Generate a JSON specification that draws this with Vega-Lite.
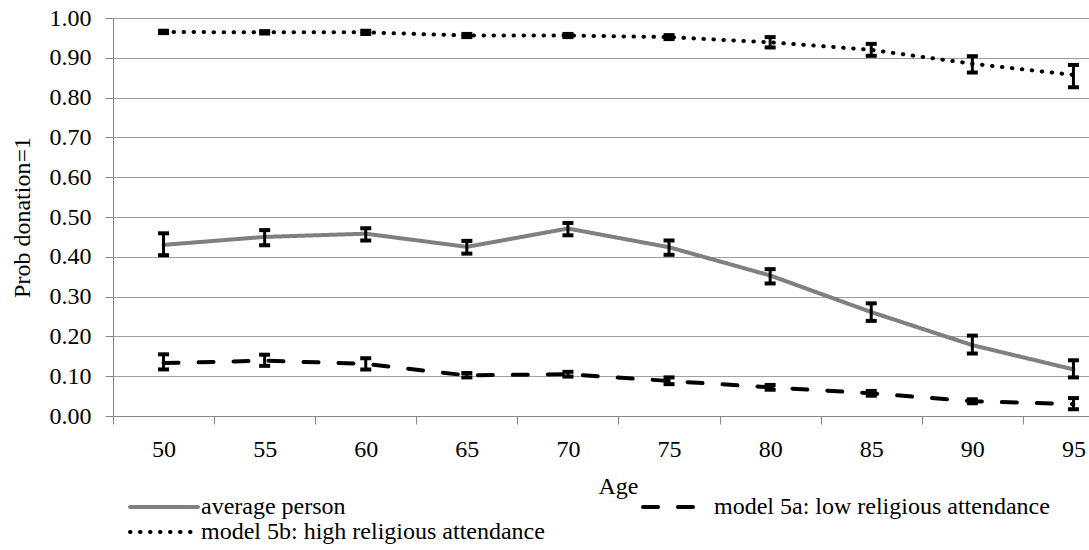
{
  "$schema": "https://vega.github.io/schema/vega-lite/v6.json",
  "width": 976,
  "height": 398,
  "autosize": {"type": "none"},
  "padding": {"left": 113, "top": 18, "right": 0, "bottom": 134},
  "config": {
    "font": "Liberation Serif",
    "view": {"stroke": null},
    "style": {
      "guide-label": {"font": "Liberation Serif", "fontSize": 24, "fill": "#000000"},
      "guide-title": {"font": "Liberation Serif", "fontSize": 24, "fontWeight": "normal", "fill": "#000000"}
    },
    "axis": {
      "labelFont": "Liberation Serif",
      "labelFontSize": 24,
      "labelColor": "#000000",
      "titleFont": "Liberation Serif",
      "titleFontSize": 24,
      "titleFontWeight": "normal",
      "titleColor": "#000000",
      "domainColor": "#868686",
      "tickColor": "#868686",
      "gridColor": "#a0a0a0",
      "gridWidth": 1
    },
    "legend": {
      "labelFont": "Liberation Serif",
      "labelFontSize": 24,
      "labelColor": "#000000",
      "labelLimit": 1000
    }
  },
  "data": {
    "values": [
      {"age": 50, "series": "average person", "p": 0.430, "lo": 0.404, "hi": 0.459},
      {"age": 55, "series": "average person", "p": 0.450, "lo": 0.429, "hi": 0.467},
      {"age": 60, "series": "average person", "p": 0.458, "lo": 0.441, "hi": 0.472},
      {"age": 65, "series": "average person", "p": 0.425, "lo": 0.408, "hi": 0.440},
      {"age": 70, "series": "average person", "p": 0.471, "lo": 0.454, "hi": 0.485},
      {"age": 75, "series": "average person", "p": 0.424, "lo": 0.405, "hi": 0.441},
      {"age": 80, "series": "average person", "p": 0.353, "lo": 0.333, "hi": 0.369},
      {"age": 85, "series": "average person", "p": 0.261, "lo": 0.239, "hi": 0.283},
      {"age": 90, "series": "average person", "p": 0.178, "lo": 0.157, "hi": 0.202},
      {"age": 95, "series": "average person", "p": 0.117, "lo": 0.097, "hi": 0.140},
      {"age": 50, "series": "model 5a: low religious attendance", "p": 0.133, "lo": 0.117, "hi": 0.155},
      {"age": 55, "series": "model 5a: low religious attendance", "p": 0.139, "lo": 0.126, "hi": 0.154},
      {"age": 60, "series": "model 5a: low religious attendance", "p": 0.131, "lo": 0.117, "hi": 0.145},
      {"age": 65, "series": "model 5a: low religious attendance", "p": 0.102, "lo": 0.097, "hi": 0.108},
      {"age": 70, "series": "model 5a: low religious attendance", "p": 0.105, "lo": 0.099, "hi": 0.111},
      {"age": 75, "series": "model 5a: low religious attendance", "p": 0.088, "lo": 0.080, "hi": 0.097},
      {"age": 80, "series": "model 5a: low religious attendance", "p": 0.072, "lo": 0.066, "hi": 0.078},
      {"age": 85, "series": "model 5a: low religious attendance", "p": 0.057, "lo": 0.051, "hi": 0.063},
      {"age": 90, "series": "model 5a: low religious attendance", "p": 0.037, "lo": 0.032, "hi": 0.042},
      {"age": 95, "series": "model 5a: low religious attendance", "p": 0.030, "lo": 0.017, "hi": 0.045},
      {"age": 50, "series": "model 5b: high religious attendance", "p": 0.965, "lo": 0.962, "hi": 0.968},
      {"age": 55, "series": "model 5b: high religious attendance", "p": 0.964, "lo": 0.961, "hi": 0.967},
      {"age": 60, "series": "model 5b: high religious attendance", "p": 0.964, "lo": 0.960, "hi": 0.968},
      {"age": 65, "series": "model 5b: high religious attendance", "p": 0.956, "lo": 0.952, "hi": 0.960},
      {"age": 70, "series": "model 5b: high religious attendance", "p": 0.956, "lo": 0.952, "hi": 0.960},
      {"age": 75, "series": "model 5b: high religious attendance", "p": 0.952, "lo": 0.947, "hi": 0.957},
      {"age": 80, "series": "model 5b: high religious attendance", "p": 0.939, "lo": 0.926, "hi": 0.952},
      {"age": 85, "series": "model 5b: high religious attendance", "p": 0.920, "lo": 0.905, "hi": 0.935},
      {"age": 90, "series": "model 5b: high religious attendance", "p": 0.885, "lo": 0.863, "hi": 0.904},
      {"age": 95, "series": "model 5b: high religious attendance", "p": 0.857, "lo": 0.826, "hi": 0.882}
    ]
  },
  "layer": [
    {
      "mark": {"type": "line", "clip": true, "strokeCap": "round"},
      "encoding": {
        "x": {
          "field": "age",
          "type": "quantitative",
          "scale": {"domain": [47.5, 95.77], "nice": false, "zero": false},
          "axis": {
            "values": [47.5, 50, 52.5, 55, 57.5, 60, 62.5, 65, 67.5, 70, 72.5, 75, 77.5, 80, 82.5, 85, 87.5, 90, 92.5, 95],
            "labelExpr": "datum.value % 5 === 0 ? datum.label : ''",
            "format": "d",
            "grid": false,
            "tickSize": 8,
            "labelPadding": 13,
            "labelFont": "Liberation Serif",
            "labelFontSize": 24,
            "labelFlush": false,
            "labelOverlap": false,
            "tickOpacity": {"condition": {"test": "datum.value % 5 === 0", "value": 0}, "value": 1},
            "title": "Age",
            "titleX": 505,
            "titleY": 77,
            "titleBaseline": "alphabetic",
            "titleAlign": "center"
          }
        },
        "y": {
          "field": "p",
          "type": "quantitative",
          "scale": {"domain": [0, 1], "nice": false},
          "axis": {
            "values": [0, 0.1, 0.2, 0.3, 0.4, 0.5, 0.6, 0.7, 0.8, 0.9, 1],
            "format": ".2f",
            "grid": true,
            "tickSize": 8,
            "labelPadding": 14,
            "labelFont": "Liberation Serif",
            "labelFontSize": 24,
            "labelOverlap": false,
            "labelFlush": false,
            "title": "Prob donation=1",
            "titleX": -91,
            "titleY": 199,
            "titleAngle": -90,
            "titleAlign": "center",
            "titleBaseline": "middle"
          }
        },
        "color": {
          "field": "series",
          "type": "ordinal",
          "scale": {
            "domain": ["average person", "model 5a: low religious attendance", "model 5b: high religious attendance"],
            "range": ["#808080", "#000000", "#000000"]
          },
          "legend": {
            "title": null,
            "orient": "none",
            "direction": "horizontal",
            "legendX": 39,
            "legendY": 477,
            "columns": 2,
            "columnPadding": 90,
            "rowPadding": 1,
            "padding": 0,
            "symbolType": "M-3.4,0H3.4",
            "symbolSize": 400,
            "labelOffset": 25,
            "encode": {"symbols": {"update": {"strokeCap": {"value": "round"}}}}
          }
        },
        "strokeDash": {
          "field": "series",
          "type": "ordinal",
          "scale": {
            "domain": ["average person", "model 5a: low religious attendance", "model 5b: high religious attendance"],
            "range": [[1, 0], [15, 20], [0.5, 9.5]]
          },
          "legend": {
            "title": null,
            "orient": "none",
            "direction": "horizontal",
            "legendX": 39,
            "legendY": 477,
            "columns": 2,
            "columnPadding": 90,
            "rowPadding": 1,
            "padding": 0,
            "symbolType": "M-3.4,0H3.4",
            "symbolSize": 400,
            "labelOffset": 25,
            "encode": {"symbols": {"update": {"strokeCap": {"value": "round"}}}}
          }
        },
        "strokeWidth": {
          "field": "series",
          "type": "ordinal",
          "scale": {
            "domain": ["average person", "model 5a: low religious attendance", "model 5b: high religious attendance"],
            "range": [4, 4, 3.5]
          },
          "legend": {
            "title": null,
            "orient": "none",
            "direction": "horizontal",
            "legendX": 39,
            "legendY": 477,
            "columns": 2,
            "columnPadding": 90,
            "rowPadding": 1,
            "padding": 0,
            "symbolType": "M-3.4,0H3.4",
            "symbolSize": 400,
            "labelOffset": 25,
            "encode": {"symbols": {"update": {"strokeCap": {"value": "round"}}}}
          }
        }
      }
    },
    {
      "mark": {"type": "rule", "color": "#000000", "strokeWidth": 3},
      "encoding": {
        "x": {
          "field": "age",
          "type": "quantitative",
          "scale": {"domain": [47.5, 95.77], "nice": false, "zero": false},
          "axis": {
            "values": [47.5, 50, 52.5, 55, 57.5, 60, 62.5, 65, 67.5, 70, 72.5, 75, 77.5, 80, 82.5, 85, 87.5, 90, 92.5, 95],
            "labelExpr": "datum.value % 5 === 0 ? datum.label : ''",
            "format": "d",
            "grid": false,
            "tickSize": 8,
            "labelPadding": 13,
            "labelFont": "Liberation Serif",
            "labelFontSize": 24,
            "labelFlush": false,
            "labelOverlap": false,
            "tickOpacity": {"condition": {"test": "datum.value % 5 === 0", "value": 0}, "value": 1},
            "title": "Age",
            "titleX": 505,
            "titleY": 77,
            "titleBaseline": "alphabetic",
            "titleAlign": "center"
          }
        },
        "y": {
          "field": "lo",
          "type": "quantitative",
          "scale": {"domain": [0, 1], "nice": false},
          "axis": {
            "values": [0, 0.1, 0.2, 0.3, 0.4, 0.5, 0.6, 0.7, 0.8, 0.9, 1],
            "format": ".2f",
            "grid": true,
            "tickSize": 8,
            "labelPadding": 14,
            "labelFont": "Liberation Serif",
            "labelFontSize": 24,
            "labelOverlap": false,
            "labelFlush": false,
            "title": "Prob donation=1",
            "titleX": -91,
            "titleY": 199,
            "titleAngle": -90,
            "titleAlign": "center",
            "titleBaseline": "middle"
          }
        },
        "y2": {"field": "hi"}
      }
    },
    {
      "mark": {"type": "tick", "orient": "horizontal", "color": "#000000", "size": 11, "thickness": 4, "opacity": 1},
      "encoding": {
        "x": {
          "field": "age",
          "type": "quantitative",
          "scale": {"domain": [47.5, 95.77], "nice": false, "zero": false},
          "axis": {
            "values": [47.5, 50, 52.5, 55, 57.5, 60, 62.5, 65, 67.5, 70, 72.5, 75, 77.5, 80, 82.5, 85, 87.5, 90, 92.5, 95],
            "labelExpr": "datum.value % 5 === 0 ? datum.label : ''",
            "format": "d",
            "grid": false,
            "tickSize": 8,
            "labelPadding": 13,
            "labelFont": "Liberation Serif",
            "labelFontSize": 24,
            "labelFlush": false,
            "labelOverlap": false,
            "tickOpacity": {"condition": {"test": "datum.value % 5 === 0", "value": 0}, "value": 1},
            "title": "Age",
            "titleX": 505,
            "titleY": 77,
            "titleBaseline": "alphabetic",
            "titleAlign": "center"
          }
        },
        "y": {
          "field": "lo",
          "type": "quantitative",
          "scale": {"domain": [0, 1], "nice": false},
          "axis": {
            "values": [0, 0.1, 0.2, 0.3, 0.4, 0.5, 0.6, 0.7, 0.8, 0.9, 1],
            "format": ".2f",
            "grid": true,
            "tickSize": 8,
            "labelPadding": 14,
            "labelFont": "Liberation Serif",
            "labelFontSize": 24,
            "labelOverlap": false,
            "labelFlush": false,
            "title": "Prob donation=1",
            "titleX": -91,
            "titleY": 199,
            "titleAngle": -90,
            "titleAlign": "center",
            "titleBaseline": "middle"
          }
        }
      }
    },
    {
      "mark": {"type": "tick", "orient": "horizontal", "color": "#000000", "size": 11, "thickness": 4, "opacity": 1},
      "encoding": {
        "x": {
          "field": "age",
          "type": "quantitative",
          "scale": {"domain": [47.5, 95.77], "nice": false, "zero": false},
          "axis": {
            "values": [47.5, 50, 52.5, 55, 57.5, 60, 62.5, 65, 67.5, 70, 72.5, 75, 77.5, 80, 82.5, 85, 87.5, 90, 92.5, 95],
            "labelExpr": "datum.value % 5 === 0 ? datum.label : ''",
            "format": "d",
            "grid": false,
            "tickSize": 8,
            "labelPadding": 13,
            "labelFont": "Liberation Serif",
            "labelFontSize": 24,
            "labelFlush": false,
            "labelOverlap": false,
            "tickOpacity": {"condition": {"test": "datum.value % 5 === 0", "value": 0}, "value": 1},
            "title": "Age",
            "titleX": 505,
            "titleY": 77,
            "titleBaseline": "alphabetic",
            "titleAlign": "center"
          }
        },
        "y": {
          "field": "hi",
          "type": "quantitative",
          "scale": {"domain": [0, 1], "nice": false},
          "axis": {
            "values": [0, 0.1, 0.2, 0.3, 0.4, 0.5, 0.6, 0.7, 0.8, 0.9, 1],
            "format": ".2f",
            "grid": true,
            "tickSize": 8,
            "labelPadding": 14,
            "labelFont": "Liberation Serif",
            "labelFontSize": 24,
            "labelOverlap": false,
            "labelFlush": false,
            "title": "Prob donation=1",
            "titleX": -91,
            "titleY": 199,
            "titleAngle": -90,
            "titleAlign": "center",
            "titleBaseline": "middle"
          }
        }
      }
    }
  ]
}
